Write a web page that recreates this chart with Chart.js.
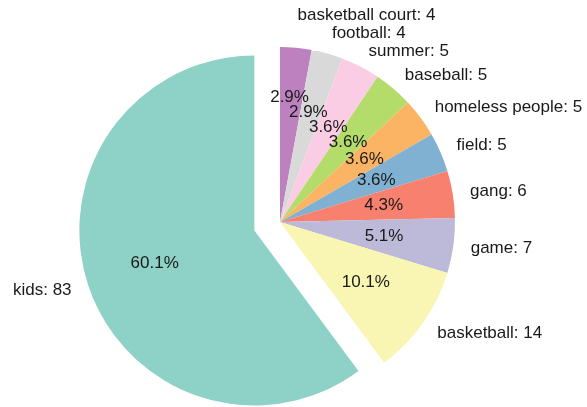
<!DOCTYPE html>
<html>
<head>
<meta charset="utf-8">
<script src="https://cdn.jsdelivr.net/npm/chart.js@4.4.0/dist/chart.umd.min.js"></script>
<style>
  html, body { margin: 0; padding: 0; background: #fff; }
  #wrap { width: 587px; height: 407px; }
</style>
</head>
<body>
<div id="wrap"><canvas id="pie" width="587" height="407"></canvas></div>
<script>
// slices, clockwise from 12 o'clock
const LABELS = ["basketball court", "football", "summer", "baseball", "homeless people",
                "field", "gang", "game", "basketball", "kids"];
const COUNTS = [4, 4, 5, 5, 5, 5, 6, 7, 14, 83];

const COLORS = ["#bd81bf", "#d9d9d9", "#fbcde4", "#b4dc6b", "#fbb464",
                "#80b1d3", "#f8806f", "#bdbad9", "#f8f6b2", "#8ed1c6"];
const FONT = "17px 'Liberation Sans', Arial, sans-serif";

// pull one slice out from the centre (Chart.js "offset" also grows the radius)
const explode = {
  id: "explode",
  afterDatasetUpdate(chart, args, opts) {
    const arc = args.meta.data[opts.index];
    if (!arc) return;
    const mid = (arc.startAngle + arc.endAngle) / 2;
    arc.x += Math.cos(mid) * opts.distance;
    arc.y += Math.sin(mid) * opts.distance;
  }
};

// push overlapping labels upwards, working from the last slice back
function nudge(items, h) {
  const placed = [];
  for (let i = items.length - 1; i >= 0; i--) {
    const a = items[i];
    let moved = true;
    while (moved) {
      moved = false;
      for (const b of placed) {
        const overX = a.x < b.x + b.w && b.x < a.x + a.w;
        if (overX && Math.abs(a.y - b.y) < h - 0.01) { a.y = b.y - h; moved = true; }
      }
    }
    placed.push(a);
  }
}

const sliceLabels = {
  id: "sliceLabels",
  afterDatasetsDraw(chart) {
    const { ctx } = chart;
    const arcs = chart.getDatasetMeta(0).data;
    const total = COUNTS.reduce((a, b) => a + b, 0);
    ctx.save();
    ctx.font = FONT;
    ctx.fillStyle = "#1a1a1a";
    ctx.textBaseline = "middle";
    ctx.textAlign = "left";
    const outer = [], inner = [];
    arcs.forEach((arc, i) => {
      const mid = (arc.startAngle + arc.endAngle) / 2;
      const c = Math.cos(mid), s = Math.sin(mid);
      const r = arc.outerRadius;
      const name = `${LABELS[i]}: ${COUNTS[i]}`;
      const w = ctx.measureText(name).width;
      const ox = arc.x + c * r * 1.1;
      outer.push({ text: name, x: c >= 0 ? ox : ox - w, y: arc.y + s * r * 1.1, w });
      const pct = (COUNTS[i] / total * 100).toFixed(1) + "%";
      const pw = ctx.measureText(pct).width;
      inner.push({ text: pct, x: arc.x + c * r * 0.6 - pw / 2, y: arc.y + s * r * 0.6, w: pw });
    });
    nudge(outer, 18);
    nudge(inner, 15);
    outer.concat(inner).forEach((l) => ctx.fillText(l.text, l.x, l.y));
    ctx.restore();
  }
};

new Chart(document.getElementById("pie"), {
  type: "pie",
  data: {
    labels: LABELS,
    datasets: [{
      data: COUNTS,
      backgroundColor: COLORS,
      borderWidth: 0,
    }]
  },
  options: {
    responsive: false,
    animation: false,
    events: [],
    radius: 175,
    layout: { padding: { left: 0, right: 27, top: 37, bottom: 0 } },
    plugins: {
      legend: { display: false },
      tooltip: { enabled: false },
      explode: { index: LABELS.indexOf("kids"), distance: 27 },
    }
  },
  plugins: [explode, sliceLabels]
});
</script>
</body>
</html>
